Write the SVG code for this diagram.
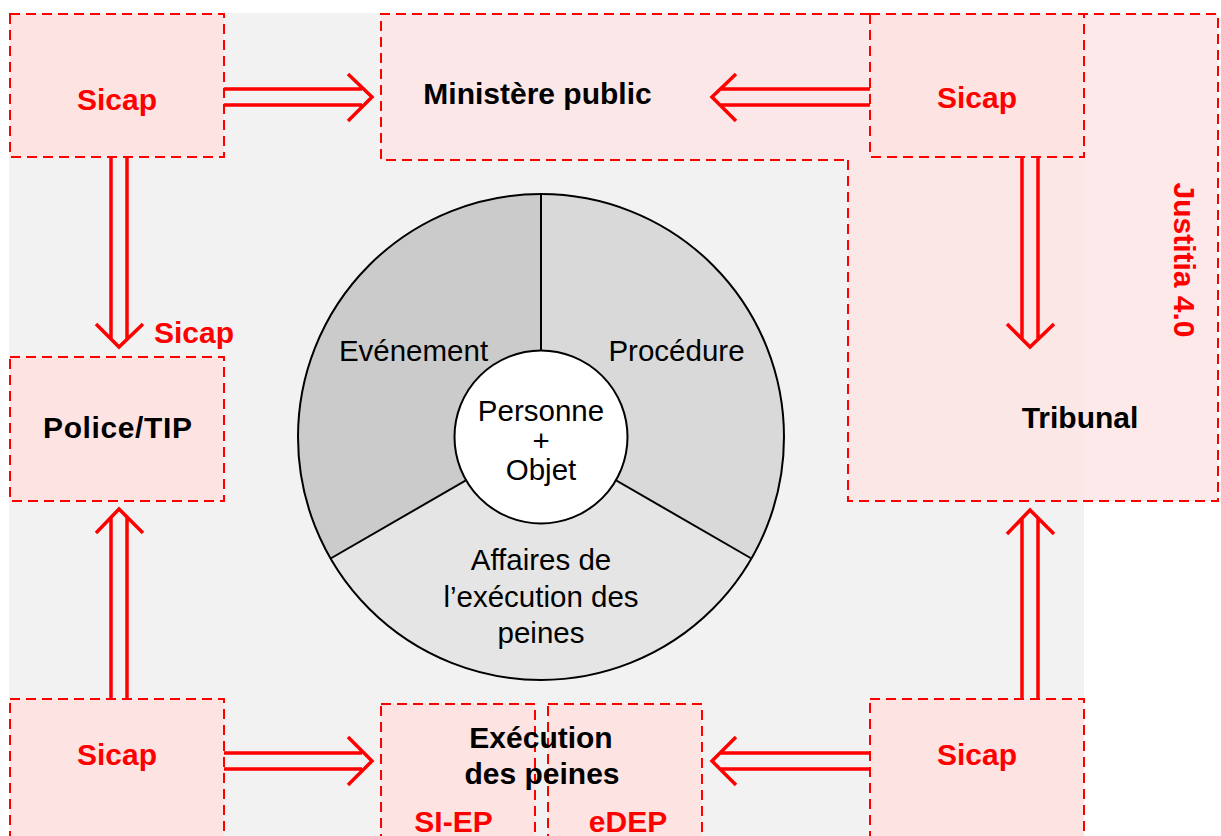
<svg xmlns="http://www.w3.org/2000/svg" width="1221" height="836" viewBox="0 0 1221 836">
<style>
.box{stroke:#FF0000;stroke-width:2;stroke-dasharray:10 6;fill:none}
.pink{fill:#FEE3E3}
.lbl{font-family:"Liberation Sans",Arial,sans-serif;font-weight:bold;font-size:30px;text-anchor:middle}
.red{fill:#FF0000}
.blk{fill:#000000}
.reg{font-family:"Liberation Sans",Arial,sans-serif;font-size:29.5px;text-anchor:middle;fill:#000}
.arr{stroke:#FF0000;stroke-width:3.5;fill:none}
.seg{stroke:#000;stroke-width:2}
</style>
<rect x="0" y="0" width="1221" height="836" fill="#FFFFFF"/>
<rect x="9" y="13" width="1075" height="823" fill="#F2F2F2"/>

<g id="tribunal">
<rect x="848" y="14" width="370" height="487" fill="#FCE7E7"/>
<rect x="1084" y="14" width="134" height="487" fill="#FDE9E9"/>
<path class="box" d="M870,14 H1218 V501 H848 V160"/>
<text class="lbl blk" x="1080" y="428">Tribunal</text>
</g>

<g id="justitia">
<text class="lbl red" transform="translate(1174,260) rotate(90)" x="0" y="0">Justitia 4.0</text>
</g>

<g id="ministere">
<rect x="381" y="14" width="489" height="146" fill="#FBE7E7"/>
<path class="box" d="M870,14 H381 V160 H848"/>
<text class="lbl blk" x="537.5" y="104">Ministère public</text>
</g>

<g id="sicap-tl">
<rect class="pink" x="10" y="14" width="214" height="143"/>
<rect class="box" x="10" y="14" width="214" height="143"/>
<text class="lbl red" x="117" y="110">Sicap</text>
</g>

<g id="sicap-tr">
<rect class="pink" x="870" y="14" width="214" height="143"/>
<rect class="box" x="870" y="14" width="214" height="143"/>
<text class="lbl red" x="977" y="108">Sicap</text>
</g>

<g id="police">
<rect class="pink" x="10" y="357" width="214" height="144"/>
<rect class="box" x="10" y="357" width="214" height="144"/>
<text class="lbl blk" x="117.5" y="438" textLength="149" lengthAdjust="spacing">Police/TIP</text>
</g>

<g id="sicap-police-label">
<text class="lbl red" x="194" y="343">Sicap</text>
</g>

<g id="sicap-bl">
<rect class="pink" x="10" y="699" width="214" height="145"/>
<rect class="box" x="10" y="699" width="214" height="145"/>
<text class="lbl red" x="117" y="765">Sicap</text>
</g>

<g id="sicap-br">
<rect class="pink" x="870" y="699" width="214" height="145"/>
<rect class="box" x="870" y="699" width="214" height="145"/>
<text class="lbl red" x="977" y="765">Sicap</text>
</g>

<g id="execution">
<rect class="pink" x="381" y="704" width="154" height="140"/>
<rect class="box" x="381" y="704" width="154" height="140"/>
<rect class="pink" x="548" y="704" width="154" height="140"/>
<rect class="box" x="548" y="704" width="154" height="140"/>
<text class="lbl blk" x="541" y="748">Exécution</text>
<text class="lbl blk" x="542" y="784">des peines</text>
<text class="lbl red" x="453.5" y="832">SI-EP</text>
<text class="lbl red" x="628" y="832">eDEP</text>
</g>

<g id="cercle">
<path d="M541,437 L541,194 A243,243 0 0,0 330.6,558.5 Z" fill="#CBCBCB"/>
<path d="M541,437 L541,194 A243,243 0 0,1 751.4,558.5 Z" fill="#D9D9D9"/>
<path d="M541,437 L330.6,558.5 A243,243 0 0,0 751.4,558.5 Z" fill="#E5E5E5"/>
<circle cx="541" cy="437" r="243" fill="none" stroke="#000" stroke-width="2"/>
<line class="seg" x1="541" y1="194" x2="541" y2="437"/>
<line class="seg" x1="330.6" y1="558.5" x2="541" y2="437"/>
<line class="seg" x1="751.4" y1="558.5" x2="541" y2="437"/>
<circle cx="541" cy="437" r="86.5" fill="#FFFFFF" stroke="#000" stroke-width="2"/>
<text class="reg" x="413.5" y="361">Evénement</text>
<text class="reg" x="676.5" y="361">Procédure</text>
<text class="reg" x="541" y="421">Personne</text>
<text class="reg" x="541" y="451">+</text>
<text class="reg" x="541" y="480">Objet</text>
<text class="reg" x="541" y="570">Affaires de</text>
<text class="reg" x="541" y="607">l’exécution des</text>
<text class="reg" x="541" y="643">peines</text>
</g>

<g id="connecteurs">
<path class="arr" d="M224,89 H362 M224,105 H362 M348,74 L372,97 L348,121"/>
<path class="arr" d="M870,89 H721 M870,105 H721 M736,74 L712,97 L736,121"/>
<path class="arr" d="M111,157 V339 M127,157 V339 M96,324 L119,347 L143,324"/>
<path class="arr" d="M1022,157 V339 M1038,157 V339 M1007,324 L1030,347 L1054,324"/>
<path class="arr" d="M111,699 V518 M127,699 V518 M96,533 L119,509 L143,533"/>
<path class="arr" d="M1022,699 V519 M1038,699 V519 M1007,534 L1030,510 L1054,534"/>
<path class="arr" d="M224,753 H362 M224,769 H362 M348,737 L372,761 L348,785"/>
<path class="arr" d="M870,753 H720 M870,769 H720 M736,737 L712,761 L736,785"/>
</g>
</svg>
